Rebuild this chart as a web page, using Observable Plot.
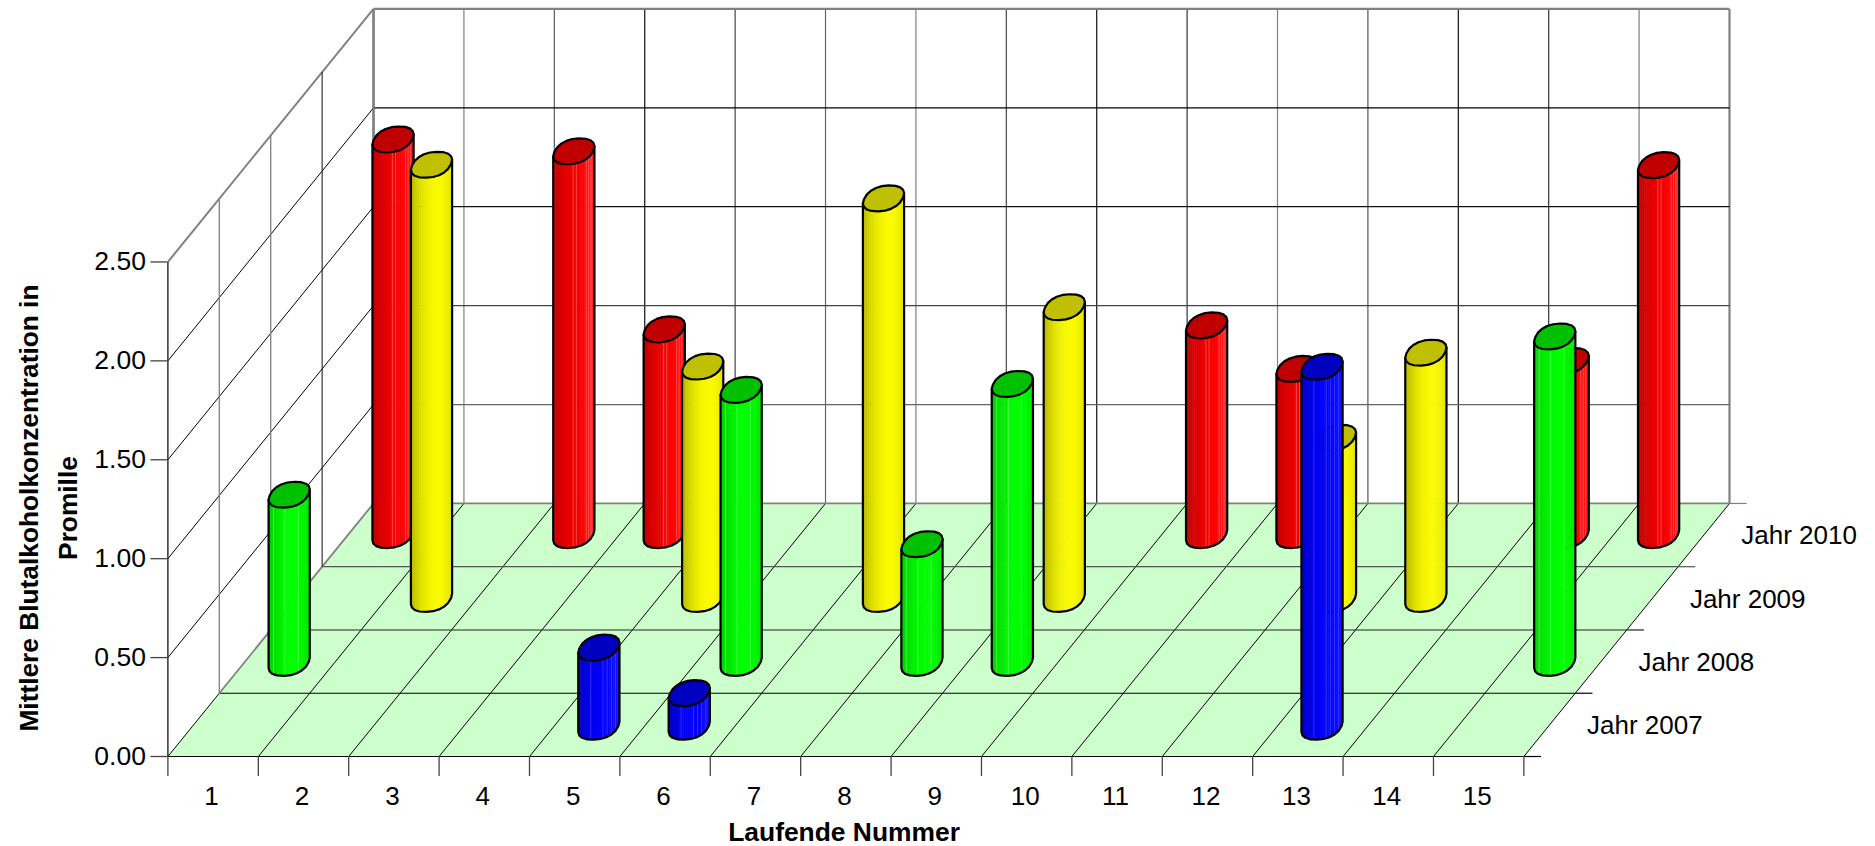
<!DOCTYPE html>
<html>
<head>
<meta charset="utf-8">
<script src="https://cdn.jsdelivr.net/npm/d3@7"></script>
<script src="https://cdn.jsdelivr.net/npm/@observablehq/plot@0.6"></script>
<style>html,body{margin:0;padding:0;background:#fff}svg{display:block}</style>
</head>
<body>
<div id="chart"></div>
<script>
const categories = [1,2,3,4,5,6,7,8,9,10,11,12,13,14,15];
const seriesNames = ["Jahr 2007","Jahr 2008","Jahr 2009","Jahr 2010"];
const jahr2007 = [null,null,null,null,0.40,0.17,null,null,null,null,null,null,1.82,null,null];
const jahr2008 = [0.85,null,null,null,null,1.38,null,0.60,1.41,null,null,null,null,null,1.65];
const jahr2009 = [null,2.195,null,null,1.175,null,2.025,null,1.475,null,null,0.815,1.245,null,null];
const jahr2010 = [2.00,null,1.94,1.04,null,null,null,null,null,1.06,0.84,null,null,0.88,1.87];
const valueTicks = [0,0.5,1,1.5,2,2.5];

// oblique projection of the 3D box onto the two plot scales
const depthX = 0.5687, depthY = 0.3198, maxValue = 2.5, nDepth = 4, nCat = 15;
const px = (c, d) => c + d * depthX;
const py = (v, d) => v + d * depthY;
const P = (c, v, d) => ({x: px(c, d), y: py(v, d)});

const rows = [jahr2007, jahr2008, jahr2009, jahr2010];
const barDepth = [0.47, 1.48, 2.49, 3.5];
const palette = [
  {top:"#0000c0", ramp:["#0000c8","#0000e8","#0000ff","#0000ff","#1818ff"], light:"#4a4aff", stripes:[.3,.6,.7,.8,.9]},
  {top:"#00c000", ramp:["#00d000","#00ee00","#00ff00","#00ff00","#00e600"], light:"#70ff70", stripes:[.12,.4,.72]},
  {top:"#c0c000", ramp:["#b8b800","#e4e400","#f8f800","#ffff00","#e0e000"], light:"#ffffa0", stripes:[]},
  {top:"#c00000", ramp:["#c00000","#e00000","#f00000","#ff0000","#ff2424"], light:"#ff7070", stripes:[.48,.56,.8,.86,.92]}
];
// outline of a bar's cross-section: a rounded, sheared oval
const ellA = 0.212, ellB = 0.07, ellC = 0.0655, ellP = 0.88, NS = 20;
const pw = u => Math.sign(u) * Math.pow(Math.abs(u), ellP);
const ovalAt = t => ({dx: ellA * pw(Math.cos(t)) + ellB * pw(Math.sin(t)), dy: ellC * pw(Math.sin(t))});
const ovalFine = d3.range(720).map(i => ovalAt(Math.PI * 2 * i / 720));
const iMin = d3.minIndex(ovalFine, p => p.dx), iMax = d3.maxIndex(ovalFine, p => p.dx);
const frontArc = [];
for (let i = iMin; ; i = (i + 1) % 720) { frontArc.push(ovalFine[i]); if (i === iMax) break; }
const xMin = ovalFine[iMin].dx, xMax = ovalFine[iMax].dx;
const frontDy = f => {
  const X = xMin + (xMax - xMin) * f;
  const j = Math.max(0, d3.bisector(p => p.dx).left(frontArc, X));
  return frontArc[Math.min(j, frontArc.length - 1)];
};
const ovalTop = d3.range(0, 721, 36).map(i => ovalFine[(iMax + i) % 720]);
const frontCoarse = frontArc.filter((_, i) => i % 36 === 0).concat(frontArc[frontArc.length - 1]);

function barMarks(cat, value, s) {
  const d = barDepth[s], c = cat + 0.5, pal = palette[s], ramp = d3.interpolateRgbBasis(pal.ramp);
  const at = (o, v) => ({x: px(c, d) + o.dx, y: py(v, d) + o.dy});
  const strips = [];
  for (let i = 0; i < NS; i++) {
    const a = frontDy(i / NS), b = frontDy(Math.min(1, (i + 1.25) / NS));
    const col = ramp((i + .5) / NS);
    [at(a, value), at(b, value), at(b, 0), at(a, 0)].forEach(p => strips.push({...p, id:i, col}));
  }
  const stripeLinks = pal.stripes.map(f => {
    const o = frontDy(f), a = at(o, value), b = at(o, 0);
    return {x1:a.x, y1:a.y, x2:b.x, y2:b.y};
  });
  const outline = [at(frontArc[0], value), ...frontCoarse.map(o => at(o, 0)), at(frontArc[frontArc.length - 1], value)];
  const top = ovalTop.map(o => at(o, value));
  return [
    Plot.line(strips, {x:"x", y:"y", z:"id", fill:"col", stroke:null}),
    Plot.link(stripeLinks, {x1:"x1", y1:"y1", x2:"x2", y2:"y2", stroke:pal.light, strokeWidth:0.9, strokeOpacity:0.7}),
    Plot.line(outline, {x:"x", y:"y", stroke:"#000", strokeWidth:2.2, strokeLinejoin:"round"}),
    Plot.line(top, {x:"x", y:"y", fill:pal.top, stroke:"#000", strokeWidth:2.2, strokeLinejoin:"round"})
  ];
}

const floor = [P(0,0,0), P(nCat,0,0), P(nCat,0,nDepth), P(0,0,nDepth), P(0,0,0)];
const link = (a, b, stroke, w) => ({x1:a.x, y1:a.y, x2:b.x, y2:b.y, stroke, w});
const wallColors = ["#808080","#808080","#5a5a5a","#111","#444","#666","#808080","#444","#111","#333","#808080","#555","#111","#333","#808080","#808080"];
const grid = [];
d3.range(0, nCat + 1).forEach(c => {
  if (c > 0) grid.push(link(P(c,0,0), P(c,0,nDepth), "#000", 1));
  grid.push(link(P(c,0,nDepth), P(c,maxValue,nDepth), wallColors[c], c === 0 || c === nCat ? 2.2 : 1.2));
});
const rowColors = ["#000","#000","#222","#555","#808080"];
d3.range(0, nDepth + 1).forEach(d => {
  grid.push(link(P(0,0,d), P(nCat,0,d), rowColors[d], d === 4 ? 1.8 : 1.2));
});
const backColors = {0.5:"#666",1:"#444",1.5:"#111",2:"#000",2.5:"#808080"};
valueTicks.forEach(v => {
  if (v > 0) {
    grid.push(link(P(0,v,0), P(0,v,nDepth), v === 2.5 ? "#808080" : "#000", v === 2.5 ? 2 : 1));
    grid.push(link(P(0,v,nDepth), P(nCat,v,nDepth), backColors[v], v === 2.5 ? 2.2 : 1.2));
  }
});
grid.push(link(P(0,0,0), P(0,0,1), "#000", 1));
grid.push(link(P(0,0,1), P(0,0,nDepth), "#808080", 1.8));
const sideColors = ["#111","#808080","#808080","#111","#808080"];
d3.range(0, nDepth + 1).forEach(d => {
  grid.push(link(P(0,0,d), P(0,maxValue,d), sideColors[d], d === 4 ? 2.2 : (d === 3 ? 1 : 1.3)));
});
const depthTicks = d3.range(0, nDepth + 1).map(d => link(P(nCat,0,d), {x:px(nCat,d)+0.19, y:py(0,d)}, rowColors[d], 1.2));
const seriesLabels = seriesNames.map((name, s) => ({...P(nCat, 0, s + 0.5), name}));

const bars = [];
[3,2,1,0].forEach(s => categories.forEach((_, i) => {
  if (rows[s][i] != null) bars.push(...barMarks(i, rows[s][i], s));
}));

const chart = Plot.plot({
  width: 1875, height: 846,
  marginLeft: 167.4, marginRight: 146, marginTop: 8.4, marginBottom: 90,
  x: {type:"linear", domain:[0, px(nCat, nDepth)]},
  y: {type:"linear", domain:[0, py(maxValue, nDepth)]},
  style: {fontFamily:"'Liberation Sans', Arial, sans-serif", background:"#fff", color:"#000"},
  marks: [
    Plot.line(floor, {x:"x", y:"y", fill:"#CCFFCC", stroke:null}),
    Plot.link(grid, {x1:"x1", y1:"y1", x2:"x2", y2:"y2", stroke:"stroke", strokeWidth:"w"}),
    Plot.link(depthTicks, {x1:"x1", y1:"y1", x2:"x2", y2:"y2", stroke:"stroke", strokeWidth:"w"}),
    Plot.axisY({ticks:valueTicks, tickFormat:".2f", tickSize:17, tickPadding:5, fontSize:26.5, label:null, stroke:"#444", strokeWidth:1.3, fill:"#000"}),
    Plot.axisX({ticks:d3.range(0, nCat + 1), tickSize:20, tickFormat:() => "", label:null, stroke:"#444", strokeWidth:1.3}),
    Plot.axisX({ticks:categories.map(c => c - 0.5), tickSize:0, tickPadding:30, dx:-1.5, tickFormat:d => d + 0.5, fontSize:26, label:null, fill:"#000"}),
    Plot.text(seriesLabels, {x:"x", y:"y", text:"name", textAnchor:"start", dx:37.5, dy:1, fontSize:26, fill:"#000"}),
    ...bars,
    Plot.text(["Laufende Nummer"], {x:()=>7.48, y:()=>-0.385, fontSize:26.4, fontWeight:"bold", fill:"#000"}),
    Plot.text(["Mittlere Blutalkoholkonzentration in\nPromille"], {x:()=>-1.36, y:()=>1.256, rotate:-90, fontSize:26.3, fontWeight:"bold", lineHeight:1.5, fill:"#000"})
  ]
});
document.getElementById("chart").append(chart);
</script>
</body>
</html>
